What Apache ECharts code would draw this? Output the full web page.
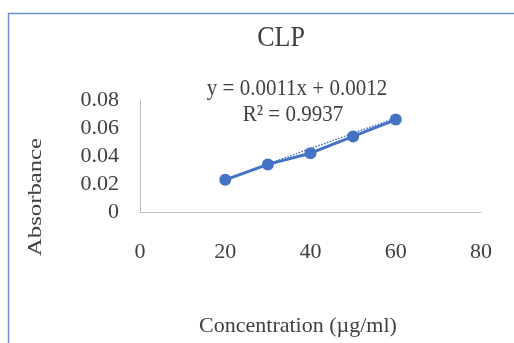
<!DOCTYPE html>
<html><head><meta charset="utf-8">
<script src="https://cdn.jsdelivr.net/npm/echarts@6/dist/echarts.min.js"></script>
<style>html,body{margin:0;padding:0;background:#fff}#c{width:514px;height:343px}</style>
</head><body><div id="c"></div>
<script>
const concentration = [20, 30, 40, 50, 60];
const absorbance = [0.023, 0.034, 0.042, 0.054, 0.066];
const trendX = [20, 60];
const trendY = [0.0234, 0.0672];
const xTicks = [0, 20, 40, 60, 80];
const yTicks = [0, 0.02, 0.04, 0.06, 0.08];
const titleText = 'CLP';
const equationText = 'y = 0.0011x + 0.0012';
const r2Text = 'R² = 0.9937';
const xName = 'Concentration (µg/ml)';
const yName = 'Absorbance';

const font = 'Liberation Serif';
const txt = '#404040';
const chart = echarts.init(document.getElementById('c'));
chart.setOption({
  animation: false,
  backgroundColor: '#fff',
  grid: {left: 140, top: 100, right: 33, bottom: 131},
  xAxis: {type: 'value', min: xTicks[0], max: xTicks[xTicks.length-1], interval: 20,
    axisLine: {lineStyle: {color: '#bfbfbf', width: 1}}, axisTick: {show: false}, splitLine: {show: false},
    axisLabel: {fontFamily: font, fontSize: 22, color: txt, margin: 29}},
  yAxis: {type: 'value', min: yTicks[0], max: yTicks[yTicks.length-1], interval: 0.02,
    axisLine: {show: true, lineStyle: {color: '#bfbfbf', width: 1}}, axisTick: {show: false}, splitLine: {show: false},
    axisLabel: {fontFamily: font, fontSize: 22, color: txt, margin: 21, formatter: v => v === 0 ? '0' : v.toFixed(2)}},
  graphic: [
    {type: 'rect', shape: {x: 8.5, y: 13.5, width: 520, height: 340}, style: {fill: 'none', stroke: '#6d93d6', lineWidth: 1.5}, z: -1},
    {type: 'text', x: 281, y: 38, scaleY: 1.15, style: {text: titleText, font: '26px "Liberation Serif"', fill: txt, textAlign: 'center', textVerticalAlign: 'middle'}},
    {type: 'text', x: 297, y: 89, scaleY: 1.1, style: {text: equationText, font: '21px "Liberation Serif"', fill: txt, textAlign: 'center', textVerticalAlign: 'middle'}},
    {type: 'text', x: 293, y: 115, scaleY: 1.1, style: {text: r2Text, font: '21px "Liberation Serif"', fill: txt, textAlign: 'center', textVerticalAlign: 'middle'}},
    {type: 'text', x: 298, y: 326, style: {text: xName, font: '22px "Liberation Serif"', fill: txt, textAlign: 'center', textVerticalAlign: 'middle'}},
    {type: 'text', x: 36, y: 197, rotation: Math.PI/2, scaleX: 1.3, style: {text: yName, font: '19px "Liberation Serif"', fill: txt, textAlign: 'center', textVerticalAlign: 'middle'}}
  ],
  series: [
    {type: 'line', data: concentration.map((x, i) => [x, absorbance[i]]), symbol: 'circle', symbolSize: 12,
      lineStyle: {color: '#4472C4', width: 3}, itemStyle: {color: '#4472C4'}},
    {type: 'line', data: trendX.map((x, i) => [x, trendY[i]]), symbol: 'none',
      lineStyle: {color: '#4472C4', width: 1.5, type: 'dotted'}, z: 1}
  ]
});
</script></body></html>
